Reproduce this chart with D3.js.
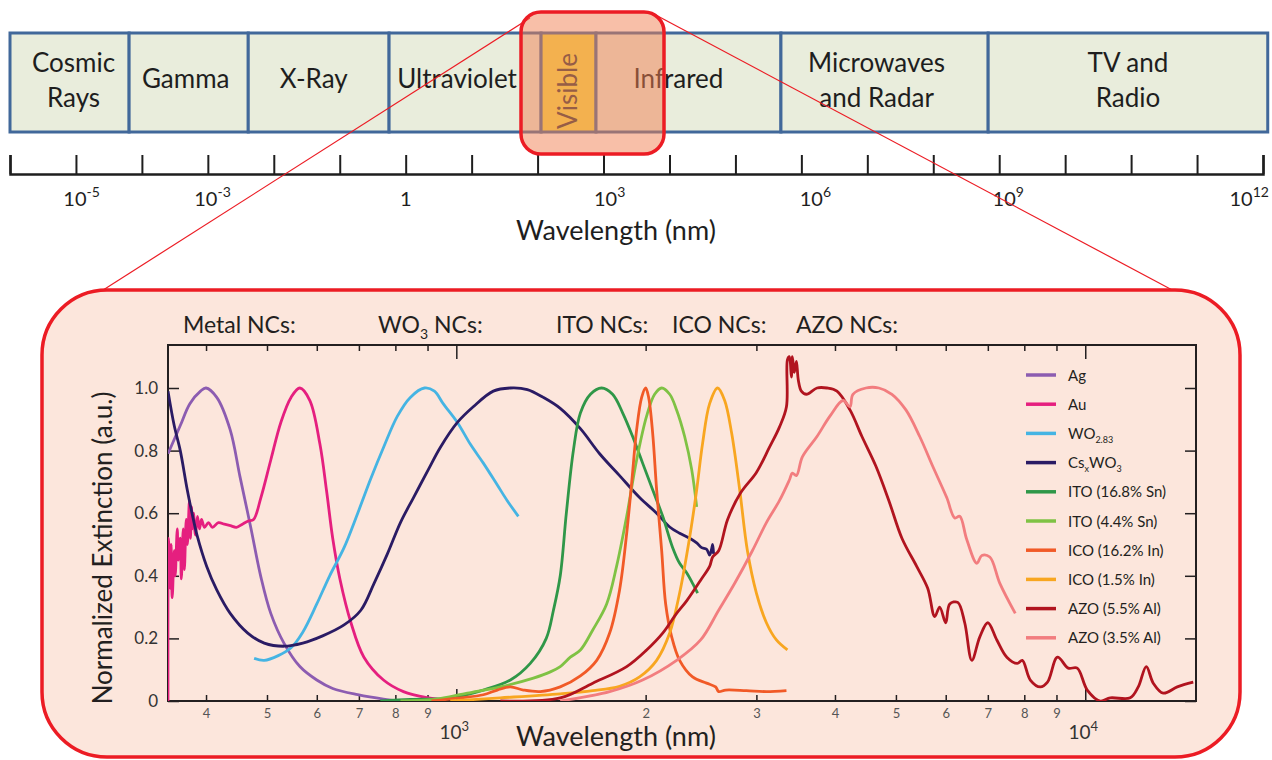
<!DOCTYPE html>
<html lang="en">
<head>
<meta charset="UTF-8">
<title>Electromagnetic spectrum and NC extinction</title>
<script src="https://cdn.jsdelivr.net/npm/d3@7"></script>
<style>
  body { margin: 0; background: #fff; }
  text { font-family: Lato, "Open Sans", sans-serif; }
</style>
</head>
<body>
<script>
// ---- spectrum bar (top) ----
const bandNames = [["Cosmic", "Rays"], ["Gamma"], ["X-Ray"], ["Ultraviolet"], ["Visible"], ["Infrared"], ["Microwaves", "and Radar"], ["TV and", "Radio"]];
const bandEdges = [1e-6, 6.4e-5, 4.1e-3, 0.56, 113, 769, 4.9e5, 6.8e8, 1.18e13];
const specDecades = d3.range(-6, 14);
const specLabelExps = [-5, -3, 0, 3, 6, 9, 12];

// ---- extinction spectra (wavelength nm, normalized extinction) ----
const agData = [[348,0.79],[364,0.88],[377,0.95],[392,0.99],[400,1.0],[416,0.97],[437,0.866],[453,0.716],[471,0.556],[489,0.396],[507,0.28],[532,0.185],[564,0.11],[600,0.067],[636,0.04],[697,0.02],[766,0.006],[815,0]];
const auData = [[348,0],[348.6,0.52],[351,0.36],[352,0.5],[353.4,0.33],[356,0.48],[357.3,0.4],[360,0.55],[361.3,0.45],[364,0.52],[365.4,0.39],[368,0.55],[369.5,0.42],[372,0.58],[373.6,0.5],[376.4,0.64],[377.8,0.52],[379.2,0.62],[380.6,0.55],[382,0.6],[384.8,0.53],[387.6,0.59],[390.5,0.55],[393.4,0.58],[397.7,0.555],[403.6,0.57],[409.5,0.555],[418.5,0.57],[427.8,0.565],[437.3,0.56],[447,0.555],[456.9,0.565],[467,0.575],[476,0.58],[489,0.65],[507,0.77],[526,0.89],[546,0.97],[564,1.0],[585,0.96],[607,0.82],[622,0.67],[636,0.52],[653,0.39],[680,0.25],[713,0.14],[766,0.067],[824,0.03],[903,0.01],[961,0.003]];
const wo283Data = [[477,0.136],[495,0.13],[521,0.145],[546,0.17],[570,0.22],[600,0.31],[629,0.40],[663,0.49],[697,0.60],[731,0.71],[766,0.81],[806,0.91],[845,0.97],[890,1.0],[923,0.99],[953,0.95],[1004,0.89],[1053,0.82],[1104,0.76],[1162,0.69],[1205,0.64],[1255,0.59]];
const cswo3Data = [[348,0.99],[356,0.88],[364,0.8],[373,0.68],[380,0.6],[387,0.53],[401,0.43],[416,0.355],[437,0.28],[466,0.217],[495,0.185],[532,0.175],[570,0.185],[613,0.208],[663,0.243],[705,0.29],[740,0.376],[777,0.47],[815,0.57],[855,0.65],[903,0.74],[943,0.81],[1004,0.89],[1064,0.94],[1145,0.99],[1219,1.0],[1297,0.995],[1375,0.97],[1463,0.935],[1575,0.87],[1690,0.79],[1818,0.72],[1956,0.65],[2082,0.60],[2184,0.556],[2265,0.536],[2350,0.52],[2411,0.505],[2455,0.49],[2500,0.485],[2528,0.466],[2546,0.485],[2556,0.50],[2565,0.47]];
const ito168Data = [[757,0],[845,0.005],[978,0.01],[1104,0.035],[1219,0.067],[1311,0.12],[1390,0.2],[1427,0.29],[1463,0.4],[1496,0.6],[1535,0.8],[1575,0.92],[1634,0.98],[1702,1.0],[1772,0.98],[1839,0.92],[1907,0.845],[1978,0.76],[2052,0.675],[2129,0.59],[2208,0.49],[2265,0.44],[2324,0.41],[2375,0.376],[2419,0.345]];
const ito44Data = [[815,0],[923,0.005],[1041,0.025],[1175,0.045],[1326,0.073],[1411,0.093],[1463,0.11],[1518,0.14],[1575,0.163],[1648,0.227],[1734,0.31],[1798,0.43],[1866,0.59],[1935,0.77],[2007,0.91],[2067,0.98],[2121,1.0],[2184,0.98],[2240,0.93],[2307,0.845],[2367,0.74],[2411,0.62]];
const ico162Data = [[913,0],[1015,0.01],[1104,0.02],[1162,0.035],[1219,0.045],[1278,0.035],[1360,0.03],[1463,0.045],[1575,0.08],[1672,0.13],[1753,0.217],[1818,0.355],[1866,0.536],[1900,0.696],[1935,0.866],[1971,0.97],[2000,1.0],[2022,0.97],[2052,0.856],[2082,0.675],[2121,0.48],[2152,0.31],[2200,0.205],[2265,0.13],[2375,0.077],[2500,0.057],[2584,0.045],[2613,0.03],[2681,0.035],[2892,0.033],[3112,0.03],[3349,0.033]];
const ico15Data = [[978,0],[1175,0.01],[1463,0.023],[1648,0.033],[1818,0.047],[1956,0.077],[2082,0.13],[2184,0.217],[2265,0.345],[2350,0.524],[2411,0.675],[2464,0.824],[2528,0.95],[2603,1.0],[2671,0.96],[2740,0.856],[2822,0.675],[2903,0.48],[3000,0.345],[3112,0.25],[3228,0.195],[3361,0.163]];
const azo55Data = [[1175,0],[1463,0.01],[1648,0.057],[1866,0.11],[2007,0.163],[2129,0.217],[2240,0.28],[2324,0.32],[2446,0.386],[2528,0.43],[2556,0.46],[2613,0.48],[2700,0.58],[2832,0.665],[3000,0.73],[3146,0.81],[3264,0.875],[3349,0.94],[3361,1.09],[3385,1.10],[3410,1.035],[3422,1.10],[3447,1.05],[3473,1.085],[3498,1.025],[3537,0.99],[3603,0.98],[3745,1.0],[3885,1.0],[4029,0.99],[4226,0.93],[4415,0.845],[4647,0.75],[4873,0.64],[5111,0.52],[5395,0.43],[5617,0.36],[5763,0.27],[5869,0.30],[6000,0.25],[6089,0.31],[6270,0.315],[6432,0.25],[6602,0.13],[6798,0.205],[7000,0.25],[7235,0.195],[7504,0.14],[7797,0.12],[7942,0.13],[8178,0.067],[8483,0.045],[8709,0.06],[9033,0.14],[9396,0.105],[9711,0.105],[10074,0.035],[10564,0],[10959,0.01],[11792,0.01],[12142,0.045],[12503,0.11],[12828,0.057],[13306,0.025],[14006,0.045],[14851,0.06]];
const azo35Data = [[1463,0],[1753,0.03],[1978,0.067],[2240,0.13],[2446,0.195],[2613,0.29],[2771,0.376],[2956,0.48],[3112,0.57],[3264,0.64],[3385,0.706],[3422,0.728],[3473,0.72],[3550,0.78],[3745,0.845],[3927,0.91],[4119,0.96],[4226,0.94],[4272,0.98],[4480,1.0],[4698,1.0],[4927,0.98],[5186,0.93],[5455,0.845],[5721,0.75],[6022,0.65],[6201,0.585],[6316,0.59],[6482,0.515],[6724,0.44],[6848,0.465],[7051,0.46],[7315,0.376],[7740,0.28]];

const seriesData = [agData, auData, wo283Data, cswo3Data, ito168Data, ito44Data, ico162Data, ico15Data, azo55Data, azo35Data];
const seriesLabels = [[["Ag"]], [["Au"]], [["WO"], ["2.83", "sub"]], [["Cs"], ["x", "sub"], ["WO"], ["3", "sub"]],
  [["ITO (16.8% Sn)"]], [["ITO (4.4% Sn)"]], [["ICO (16.2% In)"]], [["ICO (1.5% In)"]], [["AZO (5.5% Al)"]], [["AZO (3.5% Al)"]]];
const seriesColors = ["#8c5cb1", "#e51f7f", "#45b4e3", "#2a1b64", "#2f9748", "#7fc244", "#f15a27", "#f8a620", "#b1141f", "#f27d7f"];

const groupLabels = [[["Metal NCs:"]], [["WO"], ["3", "sub"], [" NCs:"]], [["ITO NCs:"]], [["ICO NCs:"]], [["AZO NCs:"]]];
const groupLabelX = [183, 378, 556, 672, 796];

const minorTicks = [400, 500, 600, 700, 800, 900, 2000, 3000, 4000, 5000, 6000, 7000, 8000, 9000];
const decadeTicks = [1000, 10000];
const yTicks = [0, 0.2, 0.4, 0.6, 0.8, 1.0];

const W = 1272, H = 760;
const red = "#ec1c24";
const svg = d3.select("body").append("svg").attr("width", W).attr("height", H);

// ---------- spectrum bar ----------
const specX = d3.scaleLog().domain([1e-6, 1e13]).range([10, 1263]);
const barTop = 33, barBot = 132;
const bandLabelShift = [4, -3, -5, -8, 0, -10, -8, 0];
const specLabelNudge = [-1, -2, 0, 2, 10, 5, 44];
const bands = bandNames.map((n, i) => ({ name: n, x0: specX(bandEdges[i]), x1: specX(bandEdges[i + 1]) }));

svg.append("g").selectAll("rect").data(bands).enter().append("rect")
  .attr("x", d => d.x0).attr("y", barTop)
  .attr("width", d => d.x1 - d.x0).attr("height", barBot - barTop)
  .attr("fill", d => d.name[0] === "Visible" ? "#f4e24c" : "#e9eddc")
  .attr("stroke", "#41689a").attr("stroke-width", 3);

const bandText = svg.append("g").attr("font-size", 26).attr("fill", "#1e1e1e").attr("text-anchor", "middle");
bands.forEach((b, i) => {
  const cx = (b.x0 + b.x1) / 2 + bandLabelShift[i];
  if (b.name[0] === "Visible") {
    bandText.append("text").attr("transform", `translate(${cx + 8},91) rotate(-90)`)
      .attr("fill", "#3a3a3a").text("Visible");
  } else if (b.name.length === 2) {
    bandText.append("text").attr("x", cx).attr("y", 72).text(b.name[0]);
    bandText.append("text").attr("x", cx).attr("y", 107).text(b.name[1]);
  } else {
    bandText.append("text").attr("x", cx).attr("y", 88).text(b.name[0]);
  }
});

// spectrum axis
const specAxis = svg.append("g").attr("transform", "translate(0,174)")
  .call(d3.axisBottom(specX).tickValues(specDecades.map(e => Math.pow(10, e))).tickSize(-19).tickFormat(""));
specAxis.select(".domain").attr("stroke", "#1e1e1e").attr("stroke-width", 2.5);
specAxis.selectAll(".tick line").attr("stroke", "#1e1e1e").attr("stroke-width", 2);

const specLab = svg.append("g").attr("font-size", 20).attr("fill", "#1e1e1e");
specLabelExps.forEach((e, i) => {
  const t = specLab.append("text").attr("y", 206);
  let baseW;
  if (e === 0) { t.text("1"); baseW = t.node().getComputedTextLength(); }
  else {
    const b = t.append("tspan").text("10");
    baseW = b.node().getComputedTextLength();
    t.append("tspan").attr("font-size", 14).attr("dy", -9).text(e);
  }
  const w = t.node().getComputedTextLength();
  t.attr("x", Math.min(specX(Math.pow(10, e)) - baseW / 2 + specLabelNudge[i], W - w));
});
svg.append("text").attr("x", 616).attr("y", 240).attr("text-anchor", "middle")
  .attr("font-size", 27).attr("fill", "#1e1e1e").text("Wavelength (nm)");

// magnifier lines
svg.append("line").attr("x1", 530).attr("y1", 18).attr("x2", 100).attr("y2", 292)
  .attr("stroke", red).attr("stroke-width", 1.2);
svg.append("line").attr("x1", 652).attr("y1", 13).attr("x2", 1176).attr("y2", 292)
  .attr("stroke", red).attr("stroke-width", 1.2);

// highlight box around visible
svg.append("rect").attr("x", 521).attr("y", 12).attr("width", 143).attr("height", 142).attr("rx", 20)
  .attr("fill", "rgba(241,127,81,0.5)").attr("stroke", red).attr("stroke-width", 3.5);

// ---------- lower panel ----------
svg.append("rect").attr("x", 42).attr("y", 290).attr("width", 1198).attr("height", 467).attr("rx", 65)
  .attr("fill", "#fce6dc").attr("stroke", red).attr("stroke-width", 3.5);

const plotL = 168, plotR = 1196, plotT = 345, plotB = 701;
const x = d3.scaleLog().domain([348, 15000]).range([plotL, plotR]);
const y = d3.scaleLinear().domain([0, 1]).range([plotB, 388]);

function richText(sel, parts, subSize, subDy) {
  parts.forEach(p => {
    if (p[1] === "sub") {
      sel.append("tspan").attr("font-size", subSize).attr("dy", subDy).text(p[0]);
    } else {
      const t = sel.append("tspan").text(p[0]);
      if (sel.selectAll("tspan").size() > 1) t.attr("dy", -subDy);
    }
  });
}

// group headers
groupLabels.forEach((g, i) => {
  const t = svg.append("text").attr("x", groupLabelX[i]).attr("y", 333)
    .attr("font-size", 23).attr("fill", "#231f20");
  richText(t, g, 14, 6);
});

// plot frame
svg.append("rect").attr("x", plotL).attr("y", plotT).attr("width", plotR - plotL).attr("height", plotB - plotT)
  .attr("fill", "none").attr("stroke", "#231f20").attr("stroke-width", 2);

svg.append("clipPath").attr("id", "plotClip").append("rect")
  .attr("x", plotL).attr("y", plotT).attr("width", plotR - plotL).attr("height", plotB - plotT);

// axes
function styleAxis(g) {
  g.select(".domain").remove();
  g.selectAll(".tick line").attr("stroke", "#231f20").attr("stroke-width", 1.5);
  g.selectAll(".tick text").attr("fill", "#444").style("font-family", "Lato, sans-serif");
}
svg.append("g").attr("transform", `translate(0,${plotB})`)
  .call(d3.axisBottom(x).tickValues(minorTicks).tickSize(-6).tickPadding(8)
    .tickFormat(d => d < 1000 ? d / 100 : d / 1000))
  .call(styleAxis).call(g => g.selectAll(".tick text").attr("font-size", 13).attr("fill", "#555"));
svg.append("g").attr("transform", `translate(0,${plotB})`)
  .call(d3.axisBottom(x).tickValues(decadeTicks).tickSize(-12).tickFormat(""))
  .call(styleAxis);
svg.append("g").attr("transform", `translate(0,${plotT})`)
  .call(d3.axisTop(x).tickValues(minorTicks).tickSize(-6).tickFormat(""))
  .call(styleAxis);
svg.append("g").attr("transform", `translate(0,${plotT})`)
  .call(d3.axisTop(x).tickValues(decadeTicks).tickSize(-14).tickFormat(""))
  .call(styleAxis);
svg.append("g").attr("transform", `translate(${plotL},0)`)
  .call(d3.axisLeft(y).tickValues(yTicks).tickSize(-11).tickPadding(10)
    .tickFormat(d => d === 0 ? "0" : d3.format(".1f")(d)))
  .call(styleAxis).call(g => g.selectAll(".tick text").attr("font-size", 17).attr("fill", "#333"));
svg.append("g").attr("transform", `translate(${plotR},0)`)
  .call(d3.axisRight(y).tickValues(yTicks).tickSize(-11).tickFormat(""))
  .call(styleAxis);

// decade labels
decadeTicks.forEach(v => {
  const t = svg.append("text").attr("x", x(v) - 2).attr("y", 739).attr("text-anchor", "middle")
    .attr("font-size", 19).attr("fill", "#333");
  t.append("tspan").text("10");
  t.append("tspan").attr("font-size", 13).attr("dy", -8).text(Math.log10(v));
});

// axis titles
svg.append("text").attr("x", 616).attr("y", 746).attr("text-anchor", "middle")
  .attr("font-size", 27).attr("fill", "#231f20").text("Wavelength (nm)");
svg.append("text").attr("transform", "translate(112,548) rotate(-90)").attr("text-anchor", "middle")
  .attr("font-size", 26).attr("fill", "#231f20").text("Normalized Extinction (a.u.)");

// spectra
const line = d3.line().x(d => x(d[0])).y(d => y(d[1])).curve(d3.curveCatmullRom.alpha(0.5));
svg.append("g").attr("clip-path", "url(#plotClip)")
  .selectAll("path").data(seriesData).enter().append("path")
  .attr("d", line).attr("fill", "none")
  .attr("stroke", (d, i) => seriesColors[i]).attr("stroke-width", 2.8)
  .attr("stroke-linejoin", "round");

// legend
const legend = svg.append("g").attr("transform", "translate(1026,375)");
seriesLabels.forEach((lab, i) => {
  const row = legend.append("g").attr("transform", `translate(0,${i * 29.2})`);
  row.append("line").attr("x1", 0).attr("x2", 30).attr("stroke", seriesColors[i]).attr("stroke-width", 3.5);
  const t = row.append("text").attr("x", 42).attr("y", 5.5).attr("font-size", 15).attr("fill", "#231f20");
  richText(t, lab, 9, 4);
});
</script>
</body>
</html>
